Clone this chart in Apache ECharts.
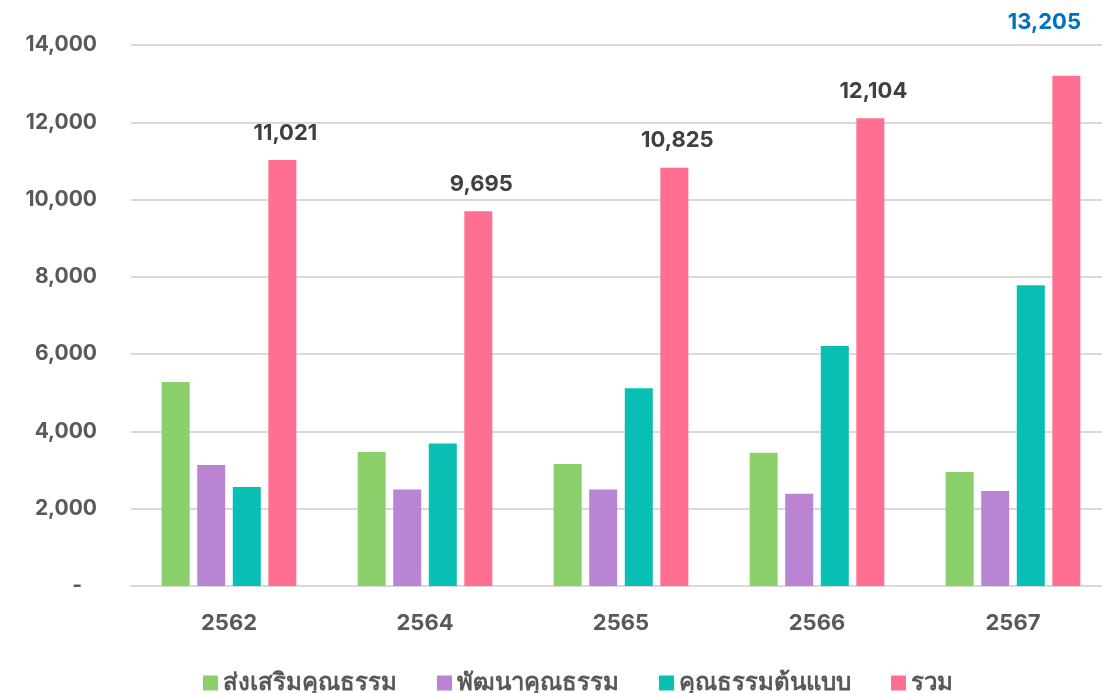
<!DOCTYPE html>
<html><head><meta charset="utf-8">
<script src="https://cdn.jsdelivr.net/npm/echarts@6/dist/echarts.min.js"></script>
<style>html,body{margin:0;padding:0;background:#fff}#c{width:1102px;height:693px}</style>
</head><body><div id="c"></div>
<script>
const categories = ['2562', '2564', '2565', '2566', '2567'];
const seriesNames = ['ส่งเสริมคุณธรรม', 'พัฒนาคุณธรรม', 'คุณธรรมต้นแบบ', 'รวม'];
const promote = [5280, 3470, 3160, 3450, 2950];
const develop = [3130, 2500, 2500, 2390, 2460];
const model = [2560, 3690, 5120, 6210, 7780];
const total = [11021, 9695, 10825, 12104, 13205];
const yTicks = [0, 2000, 4000, 6000, 8000, 10000, 12000, 14000];

const colors = ['#8CD06C', '#B984D4', '#07BFB3', '#FF6F91'];
const numFont = 'Inter, "Noto Sans", sans-serif';
const font = '"Noto Sans", sans-serif';
const fmt = v => v === 0 ? '-   ' : v.toLocaleString('en-US');

const chart = echarts.init(document.getElementById('c'));
const baseBar = (name, data, color) => ({
  name, type: 'bar', data, barWidth: 28, barGap: '27%', barCategoryGap: '31%',
  itemStyle: { color }
});
const totalData = total.map((v, i) => i === total.length - 1 ? {
  value: v, label: { color: '#0070C0', offset: [-22, -26] }
} : v);

chart.setOption({
  animation: false,
  textStyle: { fontFamily: font },
  grid: { left: 131, right: -9, top: 45, bottom: 107, outerBoundsMode: 'none' },
  legend: {
    bottom: -7, left: 198, itemWidth: 15, itemHeight: 15, itemGap: 40,
    icon: 'rect',
    textStyle: { fontSize: 24, fontWeight: 'bold', color: '#595959', fontFamily: font },
    data: seriesNames
  },
  xAxis: {
    type: 'category', data: categories,
    axisLine: { lineStyle: { color: '#d9d9d9', width: 2 } },
    axisTick: { show: false },
    axisLabel: { fontSize: 22, fontWeight: 'bold', color: '#595959', margin: 26, fontFamily: numFont }
  },
  yAxis: {
    type: 'value', min: yTicks[0], max: yTicks[yTicks.length - 1], interval: 2000,
    splitLine: { lineStyle: { color: '#d9d9d9', width: 2 } },
    axisLine: { show: false }, axisTick: { show: false },
    axisLabel: { fontSize: 21, fontWeight: 'bold', color: '#595959', margin: 34, formatter: fmt, fontFamily: numFont }
  },
  series: [
    baseBar(seriesNames[0], promote, colors[0]),
    baseBar(seriesNames[1], develop, colors[1]),
    baseBar(seriesNames[2], model, colors[2]),
    Object.assign(baseBar(seriesNames[3], totalData, colors[3]), {
      label: { show: true, position: 'top', distance: 16, offset: [3, 0], fontSize: 22, fontWeight: 'bold',
        color: '#404040', fontFamily: numFont, formatter: p => fmt(p.value) }
    })
  ]
});
</script></body></html>
